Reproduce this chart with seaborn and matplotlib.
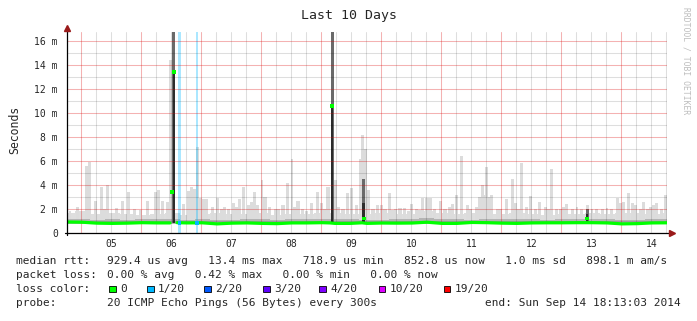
import numpy as np
import pandas as pd
import matplotlib
matplotlib.use("Agg")
import matplotlib.pyplot as plt
from matplotlib.patches import Rectangle
import seaborn as sns

# ---------------- data ----------------
title = "Last 10 Days"
day_labels = ["05", "06", "07", "08", "09", "10", "11", "12", "13", "14"]
label_days = [5.5, 6.5, 7.5, 8.5, 9.5, 10.5, 11.5, 12.5, 13.5, 14.5]
ytick_vals = [0, 2, 4, 6, 8, 10, 12, 14, 16]
ytick_labels = ["0", "2 m", "4 m", "6 m", "8 m", "10 m", "12 m", "14 m", "16 m"]

# smoke spikes (day of month, top of smoke in ms)
spike_day = [4.809, 4.942, 5.076, 5.126, 5.242, 5.326, 5.392, 5.442, 5.576, 5.692,
             5.776, 5.892, 5.976, 6.109, 6.226, 6.276, 6.359, 6.442, 6.492, 6.709,
             6.792, 6.842, 6.892, 6.926, 6.976, 7.026, 7.092, 7.192, 7.259, 7.326,
             7.392, 7.459, 7.526, 7.592, 7.642, 7.709, 7.776, 7.842, 7.892, 7.942,
             8.009, 8.059, 8.142, 8.226, 8.276, 8.359, 8.442, 8.509, 8.559, 8.609,
             8.676, 8.759, 8.842, 8.926, 9.009, 9.059, 9.109, 9.226, 9.292, 9.359,
             9.442, 9.509, 9.576, 9.659, 9.692, 9.726, 9.792, 9.859, 9.942, 10.009,
             10.059, 10.126, 10.192, 10.242, 10.309, 10.392, 10.459, 10.509, 10.576, 10.642,
             10.692, 10.759, 10.809, 10.876, 10.976, 11.059, 11.126, 11.192, 11.259, 11.342,
             11.426, 11.492, 11.576, 11.626, 11.676, 11.726, 11.759, 11.809, 11.842, 11.926,
             11.992, 12.092, 12.176, 12.242, 12.292, 12.342, 12.409, 12.476, 12.559, 12.642,
             12.726, 12.792, 12.842, 12.909, 12.976, 13.026, 13.092, 13.176, 13.259, 13.342,
             13.426, 13.509, 13.592, 13.676, 13.759, 13.842, 13.926, 13.976, 14.026, 14.109,
             14.176, 14.226, 14.309, 14.359, 14.426, 14.476, 14.526, 14.592, 14.659, 14.726]
spike_ms = [1.8, 2.2, 5.6, 5.9, 2.7, 3.8, 2.0, 4.0, 2.1, 2.7,
            3.4, 2.0, 1.9, 2.7, 3.4, 3.6, 2.7, 2.6, 14.4, 2.4,
            3.5, 3.8, 3.7, 7.2, 2.9, 2.8, 2.8, 2.2, 2.9, 2.0,
            2.2, 2.0, 2.5, 2.2, 2.8, 3.8, 2.3, 2.6, 3.4, 2.3,
            4.4, 3.0, 2.2, 2.0, 2.0, 2.3, 4.2, 6.2, 2.2, 2.7,
            2.0, 1.8, 2.5, 3.4, 2.5, 2.0, 3.8, 4.4, 2.2, 2.0,
            3.3, 3.75, 2.3, 6.2, 8.2, 7.0, 3.6, 2.0, 2.3, 2.3,
            2.0, 3.3, 1.9, 2.0, 2.1, 2.1, 1.8, 2.4, 2.0, 1.9,
            2.9, 2.9, 2.9, 2.0, 2.7, 2.0, 2.2, 2.4, 3.2, 6.4,
            2.3, 2.0, 2.2, 3.0, 4.0, 3.2, 5.5, 3.0, 3.2, 2.0,
            2.0, 2.8, 4.5, 2.5, 2.0, 5.8, 2.2, 3.1, 2.0, 2.6,
            2.2, 2.0, 5.3, 2.0, 2.0, 2.2, 2.4, 2.0, 2.2, 2.0,
            2.3, 2.0, 2.0, 2.0, 2.1, 2.0, 2.9, 2.5, 2.6, 3.3,
            2.5, 2.3, 2.0, 2.6, 2.0, 2.2, 2.3, 2.5, 2.0, 3.2]

# continuous smoke, sampled every 6 hours
grid_day = np.linspace(4.759, 14.759, 41)
floor_ms = [1.7, 1.8, 1.6, 1.7, 1.6, 1.5, 1.6, 1.7, 1.5, 1.6, 1.7, 1.6, 1.6, 1.7,
            1.5, 1.6, 1.6, 1.7, 1.7, 1.6, 1.6, 1.7, 1.6, 1.6, 1.8, 1.7, 1.6, 1.7,
            1.6, 1.6, 1.7, 1.6, 1.5, 1.6, 1.6, 1.7, 1.6, 1.7, 1.7, 1.6, 1.7]
band_ms = [1.2, 1.2, 1.1, 1.15, 1.1, 1.2, 1.15, 1.2, 1.1, 1.15, 1.1, 1.1, 1.2, 1.15,
           1.1, 1.15, 1.2, 1.15, 1.15, 1.2, 1.1, 1.1, 1.15, 1.2, 1.25, 1.2, 1.15, 1.1,
           1.15, 1.15, 1.2, 1.15, 1.1, 1.15, 1.2, 1.2, 1.15, 1.1, 1.1, 1.15, 1.15]

# dark (dense) smoke columns
dark_day = [6.54, 9.176, 9.70, 13.426]
dark_top = [20.0, 20.0, 4.5, 2.0]
dark_core = [13.4, 10.6, 2.5, 1.6]

# median rtt (ms); segment id splits the line at the outage
med_day = [4.759, 5.009, 5.259, 5.509, 5.759, 6.009, 6.259, 6.476,
           6.592, 6.759, 7.009, 7.259, 7.509, 7.759, 8.009, 8.259, 8.509, 8.759,
           9.009, 9.142, 9.226, 9.476, 9.676, 9.759, 10.009, 10.259, 10.509, 10.759,
           11.009, 11.259, 11.509, 11.759, 12.009, 12.259, 12.509, 12.759, 13.009,
           13.259, 13.509, 13.759, 14.009, 14.259, 14.509, 14.759]
med_ms = [0.92, 0.90, 0.82, 0.80, 0.82, 0.86, 0.84, 0.84,
          0.86, 0.84, 0.85, 0.76, 0.82, 0.84, 0.80, 0.78, 0.84, 0.84,
          0.86, 0.84, 0.80, 0.80, 0.85, 0.80, 0.83, 0.82, 0.83, 0.90,
          0.80, 0.80, 0.88, 0.86, 0.82, 0.80, 0.84, 0.85, 0.85,
          0.86, 0.86, 0.84, 0.76, 0.78, 0.84, 0.85]
med_seg = [0] * 8 + [1] * 36

# isolated median samples
dot_day = [6.509, 6.542, 9.176, 9.709, 13.426]
dot_ms = [3.4, 13.4, 10.6, 1.2, 1.2]

# packet loss events (1/20)
loss_day = [6.634, 6.926]
loss_med = [0.85, 0.85]

legend_rows = [
    ("median rtt:", "929.4 us avg   13.4 ms max   718.9 us min   852.8 us now   1.0 ms sd   898.1 m am/s"),
    ("packet loss:", "0.00 % avg   0.42 % max   0.00 % min   0.00 % now"),
]
loss_labels = ["0", "1/20", "2/20", "3/20", "4/20", "10/20", "19/20"]
loss_colors = ["#00ff00", "#00b8ff", "#0059ff", "#5e00ff", "#7e00ff", "#dd00ff", "#ff0000"]
probe_text = "20 ICMP Echo Pings (56 Bytes) every 300s"
end_text = "end: Sun Sep 14 18:13:03 2014"

# ---------------- drawing ----------------
sns.set_style("white")
plt.rcParams['font.family'] = ['DejaVu Sans Mono', 'DejaVu Sans']

W, H = 697, 321
fig = plt.figure(figsize=(W / 100, H / 100), dpi=100)
fig.patch.set_facecolor("white")
ax = fig.add_axes([67 / W, 1 - 233 / H, 600 / W, 201 / H])
ax.set_xlim(4.759, 14.759)
ax.set_ylim(0, 16.75)

base = 0.72
# light smoke
ax.fill_between(grid_day, base, floor_ms, step='mid', color='#dedede', lw=0, zorder=1)
ax.bar(spike_day, np.array(spike_ms) - base, bottom=base, width=0.05,
       color='#dcdcdc', lw=0, zorder=1)
# medium band near the median
ax.fill_between(grid_day, 0.76, band_ms, step='mid', color='#b4b4b4', lw=0, zorder=1.2)
# dense smoke columns
ax.bar(dark_day, np.array(dark_top) - 0.8, bottom=0.8, width=0.05,
       color='#6a6a6a', lw=0, zorder=1.4)
ax.bar(dark_day, np.array(dark_core) - 0.8, bottom=0.8, width=0.045,
       color='#2c2c2c', lw=0, zorder=1.5)
# loss bars
ax.bar(loss_day, [20, 20], bottom=0, width=0.045, color='#00b8ff', alpha=0.33,
       lw=0, zorder=1.6)

# median line
med_df = pd.DataFrame({"day": med_day, "ms": med_ms, "seg": med_seg})
sns.lineplot(data=med_df, x="day", y="ms", units="seg", estimator=None, sort=False,
             color="#00ff00", lw=2.3, ax=ax, zorder=4, legend=False)
sns.scatterplot(x=dot_day, y=dot_ms, marker='s', s=7, color='#00ff00',
                edgecolor='none', ax=ax, zorder=5, legend=False)
sns.scatterplot(x=loss_day, y=loss_med, marker='s', s=7, color='#00b8ff',
                edgecolor='none', ax=ax, zorder=5, legend=False)

# ticks
ax.set_xticks(np.arange(5, 15))
ax.set_xticks([d + q for d in range(5, 15) for q in (0.25, 0.5, 0.75)], minor=True)
ax.set_xticklabels([])
ax.set_yticks(ytick_vals, labels=ytick_labels)
ax.set_yticks(np.arange(1, 17, 2), minor=True)
ax.tick_params(axis='x', which='major', length=2.2, width=0.7, color='#b0b0b0', direction='out')
ax.tick_params(axis='x', which='minor', length=0)
ax.tick_params(axis='y', which='both', length=0, pad=6.5, labelsize=7)
ax.set_xlabel("")
ax.set_ylabel("")
for s in ax.spines.values():
    s.set_visible(False)

# grid drawn over the smoke, like rrdtool
ax.set_axisbelow(False)
ax.grid(True, which='both', axis='both', linewidth=0.75, linestyle='-')

sec = ax.secondary_xaxis('bottom')
sec.set_xticks(label_days, labels=day_labels)
sec.tick_params(length=0, pad=4.5, labelsize=7)
sec.spines['bottom'].set_visible(False)

# axis lines with arrows
ax.plot([0, 0], [-0.012, 1.015], transform=ax.transAxes, color='black', lw=0.9,
        clip_on=False, zorder=6)
ax.plot([-0.004, 1.005], [0, 0], transform=ax.transAxes, color='black', lw=0.9,
        clip_on=False, zorder=6)
ax.plot([0], [1.02], transform=ax.transAxes, marker='^', ms=4, color='#9a1a1a',
        clip_on=False, zorder=7)
ax.plot([1.008], [0], transform=ax.transAxes, marker='>', ms=4, color='#9a1a1a',
        clip_on=False, zorder=7)

# title, axis label, watermark
fig.text(349 / W, 1 - 16 / H, title, ha='center', va='center', fontsize=9.5)
fig.text(15 / W, 1 - 130 / H, "Seconds", rotation=90, ha='center', va='center', fontsize=8.3)
fig.text(686 / W, 1 - 61 / H, "RRDTOOL / TOBI OETIKER", rotation=-90, ha='center',
         va='center', fontsize=5.8, color='#bdbdbd')

# legend block
fs = 8
row_y = [261, 275, 289, 303]
for (lab, val), y in zip(legend_rows, row_y[:2]):
    fig.text(16 / W, 1 - y / H, lab, ha='left', va='center', fontsize=fs)
    fig.text(107 / W, 1 - y / H, val, ha='left', va='center', fontsize=fs)

fig.text(16 / W, 1 - row_y[2] / H, "loss color:", ha='left', va='center', fontsize=fs)
box_x = [109, 147, 204, 263, 319, 379, 444]
for bx, lab, col in zip(box_x, loss_labels, loss_colors):
    fig.patches.append(Rectangle((bx / W, 1 - 292 / H), 6.5 / W, 6.5 / H,
                                 transform=fig.transFigure, facecolor=col,
                                 edgecolor='black', lw=0.6))
    fig.text((bx + 11) / W, 1 - row_y[2] / H, lab, ha='left', va='center', fontsize=fs)

fig.text(16 / W, 1 - row_y[3] / H, "probe:", ha='left', va='center', fontsize=fs)
fig.text(107 / W, 1 - row_y[3] / H, probe_text, ha='left', va='center', fontsize=fs)
fig.text(681 / W, 1 - row_y[3] / H, end_text, ha='right', va='center', fontsize=fs)

# style the grid lines after ticks are final: red major, grey minor
fig.canvas.draw()
for axis in (ax.xaxis, ax.yaxis):
    for t in axis.get_major_ticks():
        t.gridline.set_color('#dd0000')
        t.gridline.set_alpha(0.3)
    for t in axis.get_minor_ticks():
        t.gridline.set_color('#000000')
        t.gridline.set_alpha(0.13)

fig.savefig("out.png", dpi=100, facecolor="white")
